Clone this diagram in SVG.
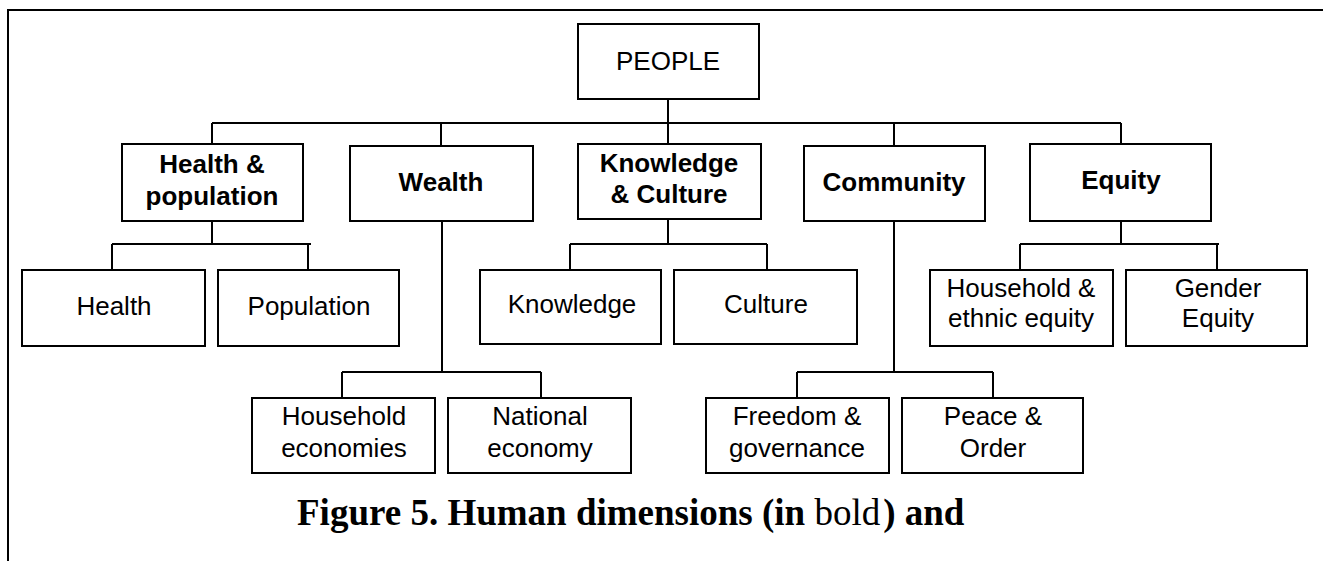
<svg xmlns="http://www.w3.org/2000/svg" width="1323" height="561" viewBox="0 0 1323 561">
<style>
.box{fill:#fff;stroke:#000;stroke-width:2}
.ln{fill:none;stroke:#000;stroke-width:2}
.t{font-family:"Liberation Sans",Arial,sans-serif;font-size:26px;text-anchor:middle;fill:#000}
.b{font-weight:bold}
.cap{font-family:"Liberation Serif","Times New Roman",serif;font-size:37px;fill:#000}
</style>
<rect width="1323" height="561" fill="#fff"/>
<path class="ln" d="M8,561 V10 H1323"/>
<g id="connectors">
<path class="ln" d="M668,99 V123 M212,123 H1121 M212,123 V144 M441,123 V146 M668,123 V144 M894,123 V146 M1121,123 V144"/>
<path class="ln" d="M212,221 V244 M112,244 H311 M112,244 V270 M308,244 V270"/>
<path class="ln" d="M668,219 V244 M570,244 H767 M570,244 V270 M767,244 V270"/>
<path class="ln" d="M1121,221 V244 M1020,244 H1219 M1020,244 V270 M1217,244 V270"/>
<path class="ln" d="M442,221 V372 M342,372 H541 M342,372 V398 M541,372 V398"/>
<path class="ln" d="M894,221 V372 M797,372 H993 M797,372 V398 M993,372 V398"/>
</g>
<g id="people"><rect class="box" x="578" y="24" width="181" height="75"/><text class="t" x="668" y="70" font-size="25">PEOPLE</text></g>
<g id="health-population"><rect class="box" x="122" y="144" width="181" height="77"/><text class="t b" x="212" y="173">Health &amp;</text><text class="t b" x="212" y="205">population</text></g>
<g id="wealth"><rect class="box" x="350" y="146" width="183" height="75"/><text class="t b" x="441" y="191">Wealth</text></g>
<g id="knowledge-culture"><rect class="box" x="578" y="144" width="183" height="75"/><text class="t b" x="669" y="172">Knowledge</text><text class="t b" x="669" y="203">&amp; Culture</text></g>
<g id="community"><rect class="box" x="804" y="146" width="181" height="75"/><text class="t b" x="894" y="191">Community</text></g>
<g id="equity"><rect class="box" x="1030" y="144" width="181" height="77"/><text class="t b" x="1121" y="189">Equity</text></g>
<g id="health"><rect class="box" x="22" y="270" width="183" height="76"/><text class="t" x="114" y="315">Health</text></g>
<g id="population"><rect class="box" x="218" y="270" width="181" height="76"/><text class="t" x="309" y="315">Population</text></g>
<g id="knowledge"><rect class="box" x="480" y="270" width="181" height="74"/><text class="t" x="572" y="313">Knowledge</text></g>
<g id="culture"><rect class="box" x="674" y="270" width="183" height="74"/><text class="t" x="766" y="313">Culture</text></g>
<g id="household-ethnic"><rect class="box" x="930" y="270" width="183" height="76"/><text class="t" x="1021" y="297">Household &amp;</text><text class="t" x="1021" y="327">ethnic equity</text></g>
<g id="gender"><rect class="box" x="1126" y="270" width="181" height="76"/><text class="t" x="1218" y="297">Gender</text><text class="t" x="1218" y="327">Equity</text></g>
<g id="household-economies"><rect class="box" x="252" y="398" width="183" height="75"/><text class="t" x="344" y="425">Household</text><text class="t" x="344" y="457">economies</text></g>
<g id="national-economy"><rect class="box" x="448" y="398" width="183" height="75"/><text class="t" x="540" y="425">National</text><text class="t" x="540" y="457">economy</text></g>
<g id="freedom"><rect class="box" x="706" y="398" width="183" height="75"/><text class="t" x="797" y="425">Freedom &amp;</text><text class="t" x="797" y="457">governance</text></g>
<g id="peace"><rect class="box" x="902" y="398" width="181" height="75"/><text class="t" x="993" y="425">Peace &amp;</text><text class="t" x="993" y="457">Order</text></g>
<text class="cap" x="297" y="525"><tspan font-weight="bold">Figure 5. Human dimensions (in </tspan><tspan>bold</tspan><tspan font-weight="bold" dx="3">) and</tspan></text>
</svg>
